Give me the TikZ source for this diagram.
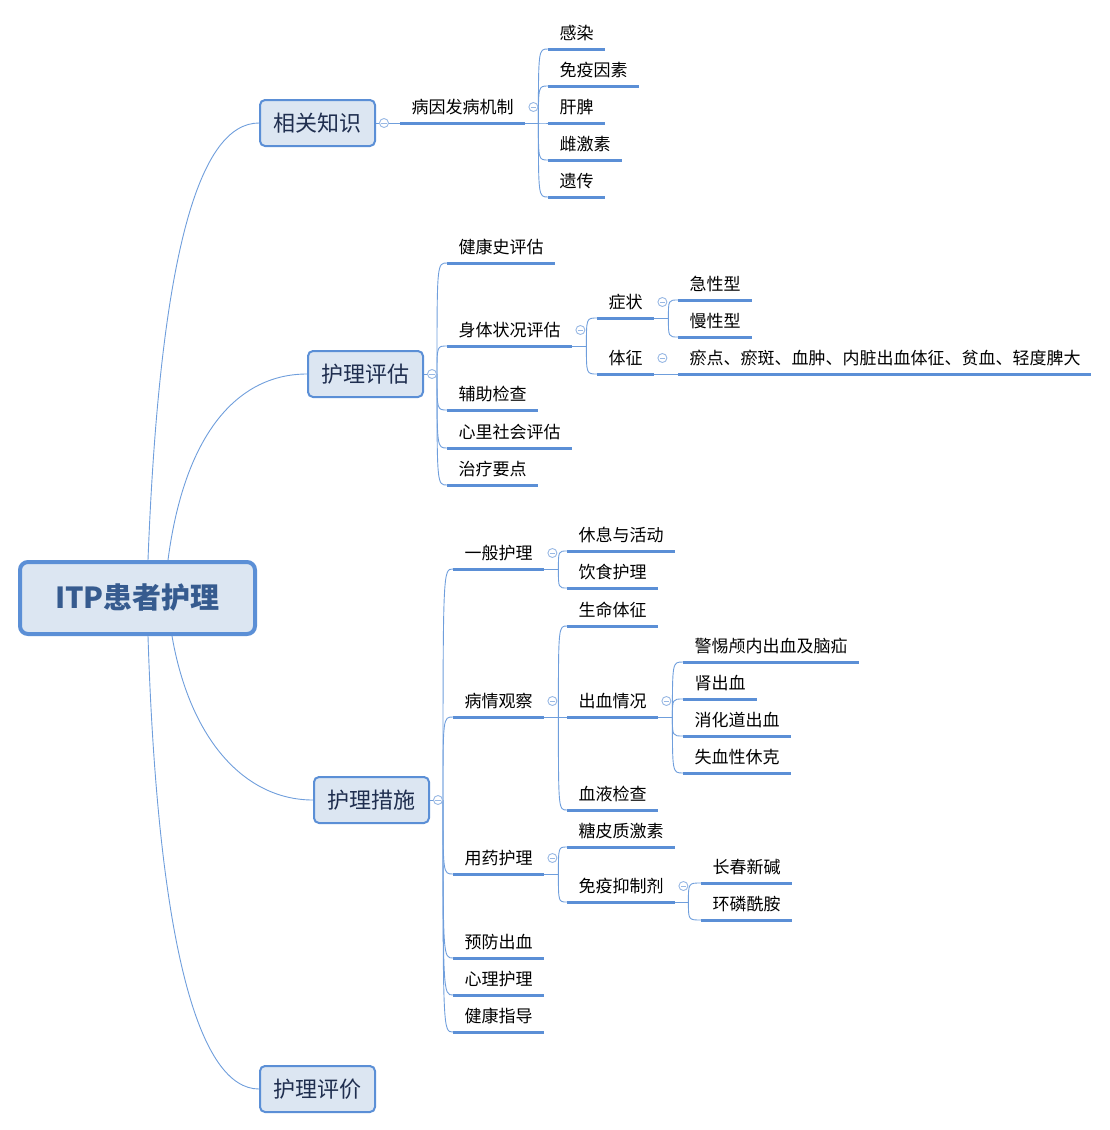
\documentclass[tikz,border=0pt]{standalone}
\usepackage{fontspec}
\setmainfont{Noto Sans CJK SC}
\definecolor{lineblue}{HTML}{5B8FD6}
\definecolor{connblue}{HTML}{6F9EDC}
\definecolor{foldblue}{HTML}{98B8E4}
\definecolor{boxfill}{HTML}{DCE6F2}
\definecolor{roottext}{HTML}{365B8F}
\definecolor{lonetext}{HTML}{1F2E4F}
\newcommand\topicnode[3]{\node[topic] (#1) at #2 {#3};\draw[ul] (#1.south west) -- (#1.south east);}
\newcommand\branchto[2]{\draw[conn] (#1) .. controls (#1 |- #2.south west) .. (#2.south west);}
\begin{document}
\begin{tikzpicture}[x=1pt,y=-1pt,
  topic/.style={anchor=south west, inner xsep=11.5pt, inner ysep=5.5pt, text height=14pt, text depth=4pt, font=\fontsize{17}{20}\selectfont, text=black},
  ul/.style={draw=lineblue, line width=3pt},
  conn/.style={draw=connblue, line width=0.9pt},
  lonebox/.style={draw=lineblue, line width=2pt, fill=boxfill, rounded corners=5pt, minimum width=115pt, minimum height=46pt, font=\fontsize{22}{26}\selectfont, text=lonetext, inner sep=0pt},
  rootbox/.style={draw=lineblue, line width=4pt, fill=boxfill, rounded corners=8pt, minimum width=235pt, minimum height=72pt, font=\bfseries\fontsize{29}{34}\selectfont, text=roottext, inner sep=0pt},
  fold/.style={circle, draw=foldblue, line width=0.9pt, fill=white, minimum size=9pt, inner sep=0pt,
    path picture={\draw[foldblue, line width=0.9pt] ([xshift=-2.6pt]path picture bounding box.center) -- ([xshift=2.6pt]path picture bounding box.center);}}
]
\useasboundingbox (0,0) rectangle (1109,1130);

% root and level-1 boxes
\node[rootbox] (root) at (137.5,598) {ITP患者护理};
\node[lonebox] (n1) at (317.5,123) {相关知识};
\node[lonebox] (n2) at (365.5,374) {护理评估};
\node[lonebox] (n3) at (371.5,800) {护理措施};
\node[lonebox] (n4) at (317.5,1089) {护理评价};

\draw[conn] ([xshift=10.5pt]root.north) .. controls (160,250) and (200,123) .. (n1.west);
\draw[conn] ([xshift=30.5pt]root.north) .. controls (185,430) and (240,374) .. (n2.west);
\draw[conn] ([xshift=34.5pt]root.south) .. controls (190,740) and (245,800) .. (n3.west);
\draw[conn] ([xshift=10.5pt]root.south) .. controls (158,950) and (200,1089) .. (n4.west);

% branch 1
\topicnode{t11}{(400,123)}{病因发病机制}
\draw[conn] (n1.east) -- (t11.south west);
\coordinate (j11) at ([xshift=13pt]t11.south east);
\draw[conn] (t11.south east) -- (j11);
\topicnode{a1}{(548,49)}{感染}
\topicnode{a2}{(548,86)}{免疫因素}
\topicnode{a3}{(548,123)}{肝脾}
\topicnode{a4}{(548,160)}{雌激素}
\topicnode{a5}{(548,197)}{遗传}
\foreach \c in {a1,a2,a3,a4,a5} {\branchto{j11}{\c}}

% branch 2
\coordinate (j2) at (437,374);
\draw[conn] (n2.east) -- (j2);
\topicnode{b1}{(447,263)}{健康史评估}
\topicnode{b2}{(447,346)}{身体状况评估}
\topicnode{b3}{(447,410)}{辅助检查}
\topicnode{b4}{(447,448)}{心里社会评估}
\topicnode{b5}{(447,485)}{治疗要点}
\foreach \c in {b1,b2,b3,b4,b5} {\branchto{j2}{\c}}
\coordinate (j22) at ([xshift=14pt]b2.south east);
\draw[conn] (b2.south east) -- (j22);
\topicnode{c1}{(597,318)}{症状}
\topicnode{c2}{(597,374)}{体征}
\foreach \c in {c1,c2} {\branchto{j22}{\c}}
\coordinate (j221) at ([xshift=14pt]c1.south east);
\draw[conn] (c1.south east) -- (j221);
\topicnode{d1}{(678,300)}{急性型}
\topicnode{d2}{(678,337)}{慢性型}
\foreach \c in {d1,d2} {\branchto{j221}{\c}}
\node[topic, text width=390pt] (d3) at (678,374) {瘀点、瘀斑、血肿、内脏出血体征、贫血、轻度脾大};
\draw[ul] (d3.south west) -- (d3.south east);
\draw[conn] (c2.south east) -- (d3.south west);

% branch 3
\coordinate (j3) at (443,800);
\draw[conn] (n3.east) -- (j3);
\topicnode{e1}{(453,569)}{一般护理}
\topicnode{e2}{(453,717)}{病情观察}
\topicnode{e3}{(453,874)}{用药护理}
\topicnode{e4}{(453,958)}{预防出血}
\topicnode{e5}{(453,995)}{心理护理}
\topicnode{e6}{(453,1032)}{健康指导}
\foreach \c in {e1,e2,e3,e4,e5,e6} {\branchto{j3}{\c}}

\coordinate (j31) at ([xshift=14pt]e1.south east);
\draw[conn] (e1.south east) -- (j31);
\topicnode{f1}{(567,551)}{休息与活动}
\topicnode{f2}{(567,588)}{饮食护理}
\foreach \c in {f1,f2} {\branchto{j31}{\c}}

\coordinate (j32) at ([xshift=14pt]e2.south east);
\draw[conn] (e2.south east) -- (j32);
\topicnode{g1}{(567,626)}{生命体征}
\topicnode{g2}{(567,717)}{出血情况}
\topicnode{g3}{(567,810)}{血液检查}
\foreach \c in {g1,g2,g3} {\branchto{j32}{\c}}

\coordinate (j322) at ([xshift=14pt]g2.south east);
\draw[conn] (g2.south east) -- (j322);
\topicnode{h1}{(683,662)}{警惕颅内出血及脑疝}
\topicnode{h2}{(683,699)}{肾出血}
\topicnode{h3}{(683,736)}{消化道出血}
\topicnode{h4}{(683,773)}{失血性休克}
\foreach \c in {h1,h2,h3,h4} {\branchto{j322}{\c}}

\coordinate (j33) at ([xshift=14pt]e3.south east);
\draw[conn] (e3.south east) -- (j33);
\topicnode{k1}{(567,847)}{糖皮质激素}
\topicnode{k2}{(567,902)}{免疫抑制剂}
\foreach \c in {k1,k2} {\branchto{j33}{\c}}

\coordinate (j332) at ([xshift=13pt]k2.south east);
\draw[conn] (k2.south east) -- (j332);
\topicnode{m1}{(701,883)}{长春新碱}
\topicnode{m2}{(701,920)}{环磷酰胺}
\foreach \c in {m1,m2} {\branchto{j332}{\c}}

% fold markers
\node[fold] (fn1) at ([xshift=8pt]n1.east) {};
\node[fold] (fn2) at ([xshift=8pt]n2.east) {};
\node[fold] (fn3) at ([xshift=8pt]n3.east) {};
\foreach \p in {t11,b2,c1,c2,e1,e2,g2,e3,k2} {
  \node[fold] (fold\p) at ([xshift=8pt,yshift=16pt]\p.south east) {};
}
\end{tikzpicture}
\end{document}
